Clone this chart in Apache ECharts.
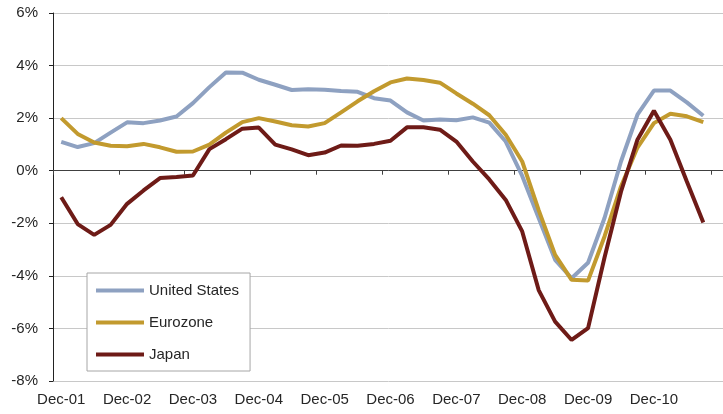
<!DOCTYPE html>
<html>
<head>
<meta charset="utf-8">
<script src="https://cdn.jsdelivr.net/npm/echarts@6/dist/echarts.min.js"></script>
<style>
  html, body { margin: 0; padding: 0; background: #fff; }
  #chart { width: 723px; height: 414px; }
</style>
</head>
<body>
<div id="chart"></div>
<script>
// quarterly axis, Dec-01 .. Dec-11 (last slot has no data)
const quarters = [
  'Dec-01', 'Mar-02', 'Jun-02', 'Sep-02', 'Dec-02', 'Mar-03', 'Jun-03', 'Sep-03',
  'Dec-03', 'Mar-04', 'Jun-04', 'Sep-04', 'Dec-04', 'Mar-05', 'Jun-05', 'Sep-05',
  'Dec-05', 'Mar-06', 'Jun-06', 'Sep-06', 'Dec-06', 'Mar-07', 'Jun-07', 'Sep-07',
  'Dec-07', 'Mar-08', 'Jun-08', 'Sep-08', 'Dec-08', 'Mar-09', 'Jun-09', 'Sep-09',
  'Dec-09', 'Mar-10', 'Jun-10', 'Sep-10', 'Dec-10', 'Mar-11', 'Jun-11', 'Sep-11',
  'Dec-11'
]

const unitedStates = [
  1.10, 0.90, 1.05, 1.45, 1.84, 1.81, 1.91, 2.06, 2.57, 3.18,
  3.74, 3.73, 3.46, 3.27, 3.07, 3.10, 3.08, 3.03, 3.00, 2.76,
  2.67, 2.22, 1.91, 1.95, 1.92, 2.03, 1.83, 1.11, -0.20, -1.80,
  -3.39, -4.09, -3.50, -1.80, 0.35, 2.13, 3.05, 3.05, 2.60, 2.09
]

const eurozone = [
  2.00, 1.40, 1.07, 0.95, 0.93, 1.02, 0.89, 0.72, 0.73, 0.99,
  1.45, 1.85, 2.00, 1.87, 1.73, 1.68, 1.81, 2.22, 2.64, 3.02,
  3.36, 3.51, 3.45, 3.35, 2.94, 2.55, 2.11, 1.37, 0.35, -1.50,
  -3.20, -4.15, -4.18, -2.50, -0.60, 0.88, 1.81, 2.17, 2.07, 1.85
]

const japan = [
  -1.01, -2.03, -2.44, -2.06, -1.26, -0.75, -0.28, -0.24, -0.18, 0.82,
  1.20, 1.60, 1.64, 0.99, 0.81, 0.59, 0.69, 0.96, 0.95, 1.02,
  1.14, 1.65, 1.65, 1.56, 1.11, 0.35, -0.33, -1.11, -2.31, -4.54,
  -5.74, -6.44, -5.99, -3.30, -0.80, 1.18, 2.28, 1.18, -0.41, -1.97
]

const seriesNames = ['United States', 'Eurozone', 'Japan']
const seriesColors = ['#8EA1C1', '#C29A2E', '#6E1B17']

const font = 'Liberation Sans, Arial, sans-serif'
const chart = echarts.init(document.getElementById('chart'))

chart.setOption({
  animation: false,
  color: seriesColors,
  textStyle: { fontFamily: font },
  grid: {
    left: 53,
    right: -5,
    top: 13,
    bottom: 33,
    outerBoundsMode: 'none'
  },
  legend: {
    data: seriesNames,
    orient: 'vertical',
    left: 87,
    top: 273,
    padding: [10, 11, 9, 9],
    itemGap: 17,
    itemWidth: 48,
    itemHeight: 4,
    icon: 'rect',
    backgroundColor: '#fff',
    borderColor: '#a6a6a6',
    borderWidth: 1,
    borderRadius: 0,
    textStyle: { fontFamily: font, fontSize: 15, color: '#262626' }
  },
  xAxis: [{
    // labels at the bottom of the plot
    type: 'category',
    data: quarters,
    position: 'bottom',
    boundaryGap: true,
    axisLine: { show: false, onZero: false },
    axisTick: { show: false },
    axisLabel: {
      interval: (idx) => idx % 4 === 0 && idx < 40,
      margin: 11,
      fontSize: 15,
      color: '#262626',
      fontFamily: font
    },
    splitLine: { show: false }
  }, {
    // axis line with ticks sitting on 0%
    type: 'category',
    data: quarters,
    position: 'bottom',
    boundaryGap: true,
    axisLine: { show: true, onZero: true, lineStyle: { color: '#404040', width: 1 } },
    axisTick: { show: true, interval: 3, length: 4, lineStyle: { color: '#404040' } },
    axisLabel: { show: false },
    splitLine: { show: false }
  }],
  yAxis: {
    type: 'value',
    min: -8,
    max: 6,
    interval: 2,
    axisLine: { show: true, lineStyle: { color: '#222', width: 1 } },
    axisTick: { show: true, length: 4, lineStyle: { color: '#222' } },
    axisLabel: {
      formatter: '{value}%',
      margin: 15,
      fontSize: 15,
      color: '#262626',
      fontFamily: font
    },
    splitLine: { show: true, lineStyle: { color: '#c8c8c8', width: 1 } }
  },
  series: [unitedStates, eurozone, japan].map((vals, i) => ({
    name: seriesNames[i],
    type: 'line',
    xAxisIndex: 0,
    data: vals,
    symbol: 'none',
    lineStyle: { width: 4, color: seriesColors[i] }
  }))
})
</script>
</body>
</html>
